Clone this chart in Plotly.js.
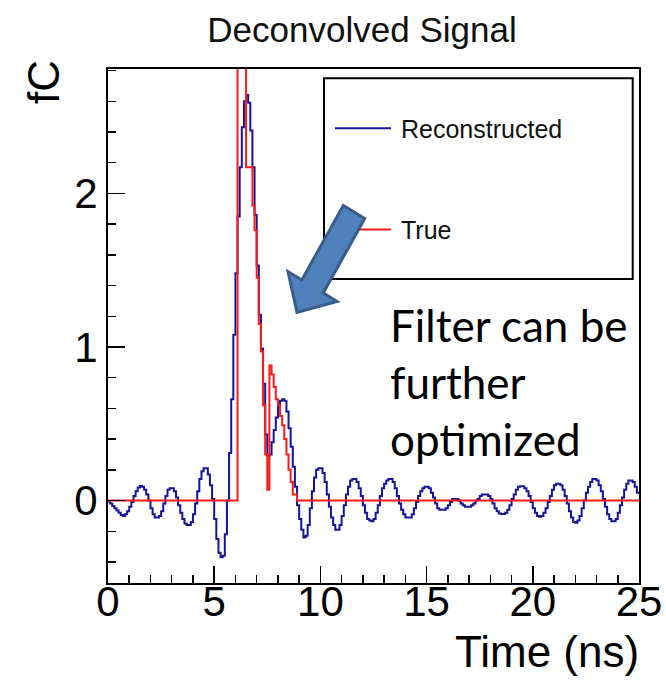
<!DOCTYPE html>
<html>
<head>
<meta charset="utf-8">
<script src="https://cdn.plot.ly/plotly-3.0.1.min.js"></script>
<style>html,body{margin:0;padding:0;background:#fff;}#chart{width:666px;height:682px;}</style>
</head>
<body>
<div id="chart"></div>
<script>
// ---- data (histogram, 250 bins of 0.1 ns from 0 to 25 ns) ----
const timeRangeNs = [0, 25];
const nBins = 250;
const seriesNames = ["Reconstructed", "True"];
const xTickLabels = ["0", "5", "10", "15", "20", "25"];
const yTickLabels = ["0", "1", "2"];

const reconstructed = [
  -0.005, -0.02, -0.035, -0.05, -0.065, -0.08, -0.095, -0.10, -0.09, -0.07,
  -0.04, -0.01, 0.03, 0.06, 0.085, 0.094, 0.09, 0.07, 0.04, 0.0,
  -0.05, -0.09, -0.11, -0.11, -0.10, -0.07, -0.02, 0.03, 0.07, 0.08,
  0.08, 0.06, 0.02, -0.03, -0.08, -0.12, -0.15, -0.16, -0.16, -0.14,
  -0.09, -0.02, 0.06, 0.14, 0.19, 0.21, 0.21, 0.17, 0.10, 0.01,
  -0.12, -0.25, -0.34, -0.37, -0.36, -0.22, 0.0, 0.31, 0.66, 1.08,
  1.48, 1.85, 2.17, 2.43, 2.60, 2.64, 2.59, 2.41, 2.17, 1.86,
  1.53, 1.21, 0.99, 0.76, 0.43, 0.29, 0.30, 0.38, 0.46, 0.54,
  0.61, 0.65, 0.66, 0.65, 0.58, 0.47, 0.35, 0.22, 0.09, -0.03,
  -0.12, -0.19, -0.24, -0.23, -0.16, -0.05, 0.06, 0.15, 0.20, 0.21,
  0.21, 0.18, 0.12, 0.04, -0.04, -0.11, -0.16, -0.19, -0.19, -0.16,
  -0.10, -0.03, 0.04, 0.09, 0.13, 0.14, 0.14, 0.12, 0.08, 0.03,
  -0.03, -0.08, -0.12, -0.13, -0.135, -0.12, -0.08, -0.03, 0.03, 0.08,
  0.11, 0.13, 0.14, 0.14, 0.12, 0.08, 0.03, -0.02, -0.06, -0.09,
  -0.11, -0.11, -0.11, -0.09, -0.05, -0.01, 0.03, 0.06, 0.08, 0.09,
  0.09, 0.08, 0.05, 0.02, -0.02, -0.05, -0.06, -0.06, -0.06, -0.05,
  -0.03, -0.01, 0.01, 0.01, 0.01, 0.0, -0.02, -0.03, -0.04, -0.04,
  -0.04, -0.03, -0.02, 0.0, 0.01, 0.03, 0.04, 0.04, 0.04, 0.03,
  0.01, -0.02, -0.05, -0.07, -0.085, -0.087, -0.087, -0.08, -0.06, -0.03,
  0.01, 0.04, 0.07, 0.09, 0.093, 0.093, 0.08, 0.06, 0.03, -0.01,
  -0.05, -0.08, -0.10, -0.106, -0.10, -0.08, -0.05, -0.01, 0.03, 0.07,
  0.10, 0.11, 0.11, 0.10, 0.07, 0.03, -0.02, -0.07, -0.11, -0.14,
  -0.145, -0.13, -0.10, -0.05, 0.0, 0.05, 0.09, 0.12, 0.14, 0.14,
  0.13, 0.10, 0.06, 0.01, -0.04, -0.09, -0.12, -0.135, -0.135, -0.12,
  -0.08, -0.03, 0.02, 0.07, 0.11, 0.13, 0.13, 0.12, 0.09, 0.05
];

const trueSignal = [
  0, 0, 0, 0, 0, 0, 0, 0, 0, 0,
  0, 0, 0, 0, 0, 0, 0, 0, 0, 0,
  0, 0, 0, 0, 0, 0, 0, 0, 0, 0,
  0, 0, 0, 0, 0, 0, 0, 0, 0, 0,
  0, 0, 0, 0, 0, 0, 0, 0, 0, 0,
  0, 0, 0, 0, 0, 0, 0, 0, 0, 0,
  0, 3.5, 3.5, 3.5, 3.5, 2.17, 2.17, 2.17, 1.92, 1.76,
  1.45, 1.15, 0.97, 0.62, 0.30, 0.07, 0.88, 0.82, 0.74, 0.66,
  0.62, 0.55, 0.49, 0.40, 0.30, 0.20, 0.12, 0.04, 0.04, 0,
  0, 0, 0, 0, 0, 0, 0, 0, 0, 0,
  0, 0, 0, 0, 0, 0, 0, 0, 0, 0,
  0, 0, 0, 0, 0, 0, 0, 0, 0, 0,
  0, 0, 0, 0, 0, 0, 0, 0, 0, 0,
  0, 0, 0, 0, 0, 0, 0, 0, 0, 0,
  0, 0, 0, 0, 0, 0, 0, 0, 0, 0,
  0, 0, 0, 0, 0, 0, 0, 0, 0, 0,
  0, 0, 0, 0, 0, 0, 0, 0, 0, 0,
  0, 0, 0, 0, 0, 0, 0, 0, 0, 0,
  0, 0, 0, 0, 0, 0, 0, 0, 0, 0,
  0, 0, 0, 0, 0, 0, 0, 0, 0, 0,
  0, 0, 0, 0, 0, 0, 0, 0, 0, 0,
  0, 0, 0, 0, 0, 0, 0, 0, 0, 0,
  0, 0, 0, 0, 0, 0, 0, 0, 0, 0,
  0, 0, 0, 0, 0, 0, 0, 0, 0, 0,
  0, 0, 0, 0, 0, 0, 0, 0, 0, 0
];

// ---- histogram step outline (ROOT style) ----
const binW = (timeRangeNs[1] - timeRangeNs[0]) / nBins;
const binEdges = Array.from({length: nBins + 1}, (_, i) => timeRangeNs[0] + i * binW);
function stepX() { return binEdges.slice(); }
function stepY(v) { return v.concat([v[v.length - 1]]); }

// ---- layout geometry ----
const W = 666, H = 682;
const M = {l: 108, r: 27, t: 69, b: 99};
const PW = W - M.l - M.r, PH = H - M.t - M.b;
const px = x => (x - M.l) / PW;
const py = y => (H - M.b - y) / PH;

const rootFont = "Liberation Sans, Arial, Helvetica, sans-serif";
const blue = "#15159c", red = "#ff1a1a";

const traces = [
  {x: stepX(), y: stepY(reconstructed), name: seriesNames[0], type: "scatter", mode: "lines",
   line: {shape: "hv", color: blue, width: 2}, showlegend: false, hoverinfo: "skip"},
  {x: stepX(), y: stepY(trueSignal), name: seriesNames[1], type: "scatter", mode: "lines",
   line: {shape: "hv", color: red, width: 2}, showlegend: false, hoverinfo: "skip"}
];

// block arrow (presentation overlay), in pixel coordinates
const arrowPts = [[343.3,205.5],[364.7,218.5],[323.2,293],[337,301.4],[297,312.5],[288,271.6],[301.8,280]];
const arrowPath = "M" + arrowPts.map(p => px(p[0]).toFixed(4) + "," + py(p[1]).toFixed(4)).join("L") + "Z";

const layout = {
  width: W, height: H,
  margin: M,
  paper_bgcolor: "#fff", plot_bgcolor: "#fff",
  showlegend: false,
  title: {text: "Deconvolved Signal", font: {family: rootFont, size: 35, color: "#111"},
          x: 362 / W, xref: "container", xanchor: "center", y: 1 - 30 / H, yref: "container", yanchor: "middle"},
  xaxis: {
    range: timeRangeNs, tickmode: "array", tickvals: xTickLabels.map(Number), ticktext: xTickLabels,
    showgrid: false, zeroline: false, showline: true, linecolor: "#000", linewidth: 2, mirror: true,
    ticks: "inside", ticklen: 17, tickwidth: 1.5, tickcolor: "#000", ticklabelstandoff: -19,
    minor: {ticks: "inside", ticklen: 8, tickwidth: 1.5, tickcolor: "#000", dtick: 1, showgrid: false},
    tickfont: {family: rootFont, size: 42, color: "#000"}
  },
  yaxis: {
    range: [-0.537, 2.81], tickmode: "array", tickvals: yTickLabels.map(Number), ticktext: yTickLabels,
    showgrid: false, zeroline: false, showline: true, linecolor: "#000", linewidth: 2, mirror: true,
    ticks: "inside", ticklen: 17, tickwidth: 1.5, tickcolor: "#000",
    minor: {ticks: "inside", ticklen: 8, tickwidth: 1.5, tickcolor: "#000", dtick: 0.2, tick0: 0, showgrid: false},
    tickfont: {family: rootFont, size: 42, color: "#000"}
  },
  shapes: [
    {type: "rect", xref: "paper", yref: "paper", x0: px(324), x1: px(632.7), y0: py(279), y1: py(78.3),
     line: {color: "#000", width: 2}, fillcolor: "#fff", layer: "above"},
    {type: "line", xref: "paper", yref: "paper", x0: px(335), x1: px(391), y0: py(128.3), y1: py(128.3),
     line: {color: blue, width: 2}, layer: "above"},
    {type: "line", xref: "paper", yref: "paper", x0: px(335), x1: px(391), y0: py(229.5), y1: py(229.5),
     line: {color: red, width: 2}, layer: "above"},
    {type: "path", xref: "paper", yref: "paper", path: arrowPath,
     fillcolor: "#4f81bd", line: {color: "#385d8a", width: 3}, layer: "above"}
  ],
  annotations: [
    {text: "fC", xref: "paper", yref: "paper", x: px(43), y: py(82), textangle: -90, showarrow: false,
     xanchor: "center", yanchor: "middle", font: {family: rootFont, size: 44, color: "#000"}},
    {text: "Time (ns)", xref: "paper", yref: "paper", x: px(641), y: py(651), showarrow: false,
     xanchor: "right", yanchor: "middle", font: {family: rootFont, size: 44, color: "#000"}},
    {text: seriesNames[0], xref: "paper", yref: "paper", x: px(399), y: py(129), showarrow: false,
     xanchor: "left", yanchor: "middle", font: {family: rootFont, size: 25, color: "#111"}},
    {text: seriesNames[1], xref: "paper", yref: "paper", x: px(399), y: py(230), showarrow: false,
     xanchor: "left", yanchor: "middle", font: {family: rootFont, size: 25, color: "#111"}},
    {text: "Filter can be<br>further<br>optimized", xref: "paper", yref: "paper", x: px(388), y: py(382),
     showarrow: false, xanchor: "left", yanchor: "middle", align: "left",
     font: {family: "Lato, Carlito, 'Open Sans', sans-serif", size: 44, color: "#000"}}
  ]
};

Plotly.newPlot("chart", traces, layout, {staticPlot: true, displayModeBar: false});
</script>
</body>
</html>
